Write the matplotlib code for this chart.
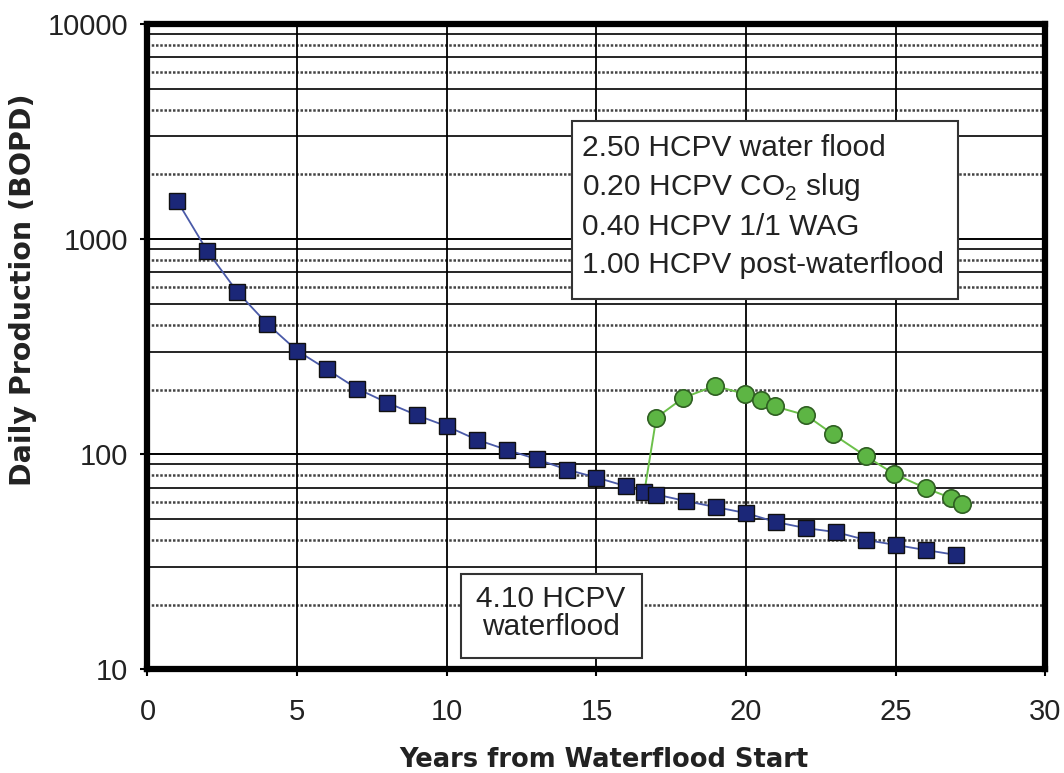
import matplotlib
matplotlib.use("Agg")
import matplotlib.pyplot as plt
from matplotlib.patches import Rectangle
from matplotlib.ticker import FixedLocator, NullFormatter

plt.rcParams['font.family'] = ['Liberation Sans', 'DejaVu Sans']
plt.rcParams['mathtext.fontset'] = 'custom'
plt.rcParams['mathtext.rm'] = 'Liberation Sans'

# waterflood only (blue squares)
wf_years = [1, 2, 3, 4, 5, 6, 7, 8, 9, 10, 11, 12, 13, 14, 15, 16, 16.6, 17,
            18, 19, 20, 21, 22, 23, 24, 25, 26, 27]
wf_bopd = [1500, 880, 569, 404, 303, 248, 202, 174, 152, 135, 117, 105, 95, 85,
           78, 71, 67, 65, 60.6, 56.8, 53.3, 48.4, 45.4, 43.5, 40, 37.9, 35.9, 34.1]

# CO2 WAG case (green circles), first point is the branch off the waterflood curve
co2_years = [16.6, 17, 17.9, 18.95, 19.95, 20.5, 20.95, 22, 22.9, 24, 24.95,
             26, 26.85, 27.2]
co2_bopd = [67, 148, 183, 208, 191, 178, 167, 152, 124, 98, 81, 69.6, 62.6, 58.7]

xticks = [0, 5, 10, 15, 20, 25, 30]
yticks = [10, 100, 1000, 10000]
ytick_labels = ['10', '100', '1000', '10000']

box1_lines = ['2.50 HCPV water flood', '0.20 HCPV CO$_\\mathrm{2}$ slug',
              '0.40 HCPV 1/1 WAG', '1.00 HCPV post-waterflood']
box2_text = '4.10 HCPV\nwaterflood'

fig = plt.figure(figsize=(10.64, 7.73), dpi=100)
ax = fig.add_axes([0.1386, 0.1339, 0.8440, 0.8351])
ax.set_yscale('log')
ax.set_xlim(0, 30)
ax.set_ylim(10, 10000)

# grid: decades + x grid in solid black, minor lines alternate black / grey
for dec in [10, 100, 1000]:
    for m in range(2, 10):
        if m % 2:
            ax.axhline(dec * m, color='black', lw=1.2, zorder=1)
        else:
            ax.axhline(dec * m, color='#444444', lw=1.8, ls=(0, (1, 0.7)), zorder=1)
for v in [100, 1000]:
    ax.axhline(v, color='black', lw=1.4, zorder=1)
for v in xticks[1:-1]:
    ax.axvline(v, color='black', lw=1.3, zorder=1)

ax.plot(co2_years, co2_bopd, color='#6cc04a', lw=1.4, marker='o', markersize=12.5,
        markerfacecolor='#5db544', markeredgecolor='#2f5f22', markeredgewidth=1.2,
        markevery=slice(1, None), zorder=3)
ax.plot(wf_years, wf_bopd, color='#4a5aa8', lw=1.3, marker='s', markersize=12,
        markerfacecolor='#1b2778', markeredgecolor='#111111', markeredgewidth=1.0,
        zorder=4)

ax.xaxis.set_major_locator(FixedLocator(xticks))
ax.yaxis.set_major_locator(FixedLocator(yticks))
ax.set_yticklabels(ytick_labels)
ax.yaxis.set_minor_formatter(NullFormatter())
ax.tick_params(axis='y', which='minor', length=0)
ax.tick_params(axis='both', which='major', labelsize=21, length=5, width=1.5,
               direction='out', colors='black', labelcolor='#222222')
ax.tick_params(axis='y', pad=9)
ax.tick_params(axis='x', pad=15.5)

for s in ax.spines.values():
    s.set_linewidth(4.5)
    s.set_color('black')

ax.set_xlabel('Years from Waterflood Start', fontsize=18.5, fontweight='bold',
              family='DejaVu Sans', color='#222222')
ax.xaxis.set_label_coords(0.508, -0.14)
ax.xaxis.label.set_verticalalignment('center')
ax.set_ylabel('Daily Production (BOPD)', fontsize=20.5, fontweight='bold',
              family='DejaVu Sans', color='#222222')
ax.yaxis.set_label_coords(-0.139, 0.588)
ax.yaxis.label.set_verticalalignment('center')

# text boxes
ax.add_patch(Rectangle((0.4727, 0.574), 0.4299, 0.2757, transform=ax.transAxes,
                       facecolor='white', edgecolor='#333333', lw=1.5, zorder=5))
for yy, line in zip([0.8079, 0.7475, 0.6855, 0.6266], box1_lines):
    ax.text(0.4839, yy, line, transform=ax.transAxes, fontsize=21.5, va='center',
            ha='left', color='#222222', zorder=6)

ax.add_patch(Rectangle((0.3491, 0.0178), 0.2016, 0.1302, transform=ax.transAxes,
                       facecolor='white', edgecolor='#333333', lw=1.5, zorder=5))
ax.text(0.4493, 0.088, box2_text, transform=ax.transAxes, fontsize=21.5,
        va='center', ha='center', linespacing=1.0, color='#222222', zorder=6)

fig.savefig('out.png', dpi=100)
